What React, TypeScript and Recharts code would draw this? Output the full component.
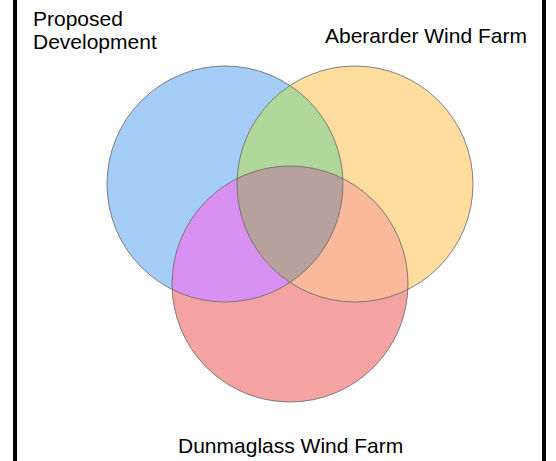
import React from 'react';
import { ScatterChart, Scatter, XAxis, YAxis, Customized } from 'recharts';

const CHART_W = 556;
const CHART_H = 461;

// Venn sets: centre (x, y) and radius in chart units
const setNames = ['Proposed Development', 'Aberarder Wind Farm', 'Dunmaglass Wind Farm'];
const setKeys = ['pd', 'aw', 'dw'];
const setX = [225, 355, 290];
const setY = [184, 184, 284];
const setR = [118, 118, 118];
const setColors = ['#a6cdf8', '#fedd9f', '#f5a2a2'];

// pairwise overlaps: [clip set, drawn set, colour]
const pairClip = ['pd', 'pd', 'aw'];
const pairDraw = ['aw', 'dw', 'dw'];
const pairColors = ['#b0d89a', '#d890f3', '#fbb99c'];

// triple overlap
const tripleColor = '#b7a19c';

const circles = setKeys.map((k, i) => ({ key: k, name: setNames[i], x: setX[i], y: setY[i], r: setR[i], color: setColors[i] }));
const byKey = (k: string) => circles.find((c) => c.key === k)!;
const pairs = pairClip.map((a, i) => {
  const b = byKey(pairDraw[i]);
  return { x: b.x, y: b.y, r: b.r, clip: a, color: pairColors[i] };
});
const triple = [{ x: byKey('dw').x, y: byKey('dw').y, r: byKey('dw').r, color: tripleColor }];

const PX = CHART_W / CHART_W; // units -> pixels (x scale)

const BaseShape = (props: any) => {
  const { cx, cy, payload } = props;
  const r = payload.r * PX;
  return (
    <g>
      <defs>
        <clipPath id={`clip-${payload.key}`}>
          <circle cx={cx} cy={cy} r={r} />
        </clipPath>
      </defs>
      <circle cx={cx} cy={cy} r={r} fill={payload.color} />
    </g>
  );
};

const PairShape = (props: any) => {
  const { cx, cy, payload } = props;
  const r = payload.r * PX;
  return <circle cx={cx} cy={cy} r={r} fill={payload.color} clipPath={`url(#clip-${payload.clip})`} />;
};

const TripleShape = (props: any) => {
  const { cx, cy, payload } = props;
  const r = payload.r * PX;
  return (
    <g clipPath="url(#clip-aw)">
      <circle cx={cx} cy={cy} r={r} fill={payload.color} clipPath="url(#clip-pd)" />
    </g>
  );
};

const OutlineShape = (props: any) => {
  const { cx, cy, payload } = props;
  const r = payload.r * PX;
  return <circle cx={cx} cy={cy} r={r} fill="none" stroke="#6b6b6b" strokeOpacity={0.85} strokeWidth={1} />;
};

const Labels = () => (
  <g fontFamily="'Liberation Sans', Arial, sans-serif" fontSize={21} fill="#000">
    <rect x={13} y={0} width={4} height={CHART_H} fill="#000" />
    <rect x={542} y={0} width={4} height={CHART_H} fill="#000" />
    <text x={33} y={26}>Proposed</text>
    <text x={33} y={49}>Development</text>
    <text x={325} y={43}>{setNames[1]}</text>
    <text x={178} y={453}>{setNames[2]}</text>
  </g>
);

export default function App() {
  return (
    <div style={{ position: 'absolute', left: 0, top: 0, width: CHART_W, height: CHART_H, background: '#fff' }}>
      <ScatterChart width={CHART_W} height={CHART_H} margin={{ top: 0, right: 0, bottom: 0, left: 0 }}>
        <XAxis type="number" dataKey="x" domain={[0, CHART_W]} hide />
        <YAxis type="number" dataKey="y" domain={[0, CHART_H]} reversed hide />
        <Scatter data={circles} shape={BaseShape} isAnimationActive={false} />
        <Scatter data={pairs} shape={PairShape} isAnimationActive={false} />
        <Scatter data={triple} shape={TripleShape} isAnimationActive={false} />
        <Scatter data={circles} shape={OutlineShape} isAnimationActive={false} />
        <Customized component={Labels} />
      </ScatterChart>
    </div>
  );
}
